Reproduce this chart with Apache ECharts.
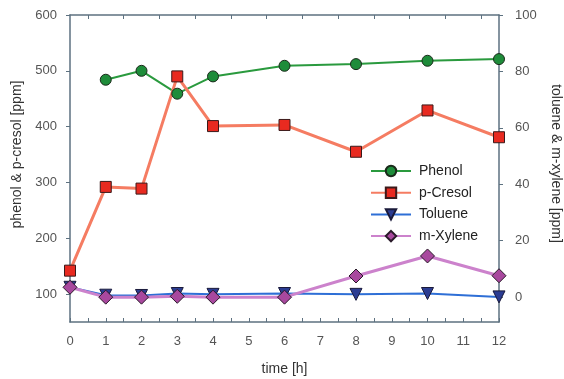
<!DOCTYPE html>
<html>
<head>
<meta charset="utf-8">
<script src="https://cdn.jsdelivr.net/npm/echarts@6/dist/echarts.min.js"></script>
<style>
html,body{margin:0;padding:0;background:#fff;}
#c{width:564px;height:379px;}
</style>
</head>
<body>
<div id="c"></div>
<script>
// Data
const time = [0, 1, 2, 3, 4, 6, 8, 10, 12];
const phenol = [null, 484, 500, 459, 490, 509, 512, 518, 521];
const pCresol = [142, 292, 289, 490, 401, 403, 355, 429, 381];
const toluene = [3.5, 0.7, 0.6, 1.3, 1.0, 1.3, 1.0, 1.3, 0.1];
const mXylene = [3.5, 0, 0, 0.3, 0, 0, 7.5, 14.6, 7.6];

const xTicks = [0,1,2,3,4,5,6,7,8,9,10,11,12];
const leftTicks = [100, 200, 300, 400, 500, 600];
const rightTicks = [0, 20, 40, 60, 80, 100];

function pairs(vals) {
  const out = [];
  for (let i = 0; i < time.length; i++) {
    if (vals[i] !== null) out.push([time[i], vals[i]]);
  }
  return out;
}

const FONT = "'Liberation Sans', Arial, sans-serif";
const AX = '#5d7180';
const LBL = '#555555';

const chart = echarts.init(document.getElementById('c'), null, {renderer: 'canvas'});
const halfTicks = [];
for (let v = 0; v <= 12; v += 0.5) halfTicks.push(v);
const topTicks = [];
for (let v = 0.5; v < 12; v += 1) topTicks.push(v);

chart.setOption({
  animation: false,
  backgroundColor: '#ffffff',
  textStyle: {fontFamily: FONT},
  grid: {left: 70, right: 65, top: 15, bottom: 57, containLabel: false, outerBoundsMode: 'none'},
  legend: {
    orient: 'vertical',
    left: 370,
    top: 164,
    padding: 0,
    itemWidth: 40,
    itemHeight: 13,
    itemGap: 7.7,
    textStyle: {fontFamily: FONT, fontSize: 14, color: '#222222', padding: [0, 0, 0, 3]},
    data: ['Phenol', 'p-Cresol', 'Toluene', 'm-Xylene']
  },
  xAxis: [
    {
      type: 'value', min: 0, max: 12, interval: 1, position: 'bottom',
      name: 'time [h]', nameLocation: 'middle', nameGap: 40,
      nameTextStyle: {fontFamily: FONT, fontSize: 14, color: '#333333'},
      axisLine: {show: true, onZero: false, lineStyle: {color: AX, width: 1.5}},
      axisTick: {show: true, inside: true, length: 4, customValues: halfTicks, lineStyle: {color: AX}},
      axisLabel: {show: true, margin: 13, fontFamily: FONT, fontSize: 13, color: LBL, customValues: xTicks},
      splitLine: {show: false}
    },
    {
      type: 'value', min: 0, max: 12, position: 'top',
      axisLine: {show: true, onZero: false, lineStyle: {color: AX, width: 1.5}},
      axisTick: {show: true, inside: true, length: 4, customValues: topTicks, lineStyle: {color: AX}},
      axisLabel: {show: false},
      splitLine: {show: false}
    }
  ],
  yAxis: [
    {
      type: 'value', min: 50, max: 600, position: 'left',
      name: 'phenol & p-cresol [ppm]', nameLocation: 'middle', nameGap: 45, nameRotate: 90,
      nameTextStyle: {fontFamily: FONT, fontSize: 14, color: '#333333', padding: [0, 0, 0, 28]},
      axisLine: {show: true, onZero: false, lineStyle: {color: AX, width: 1.5}},
      axisTick: {show: true, inside: false, length: 4, customValues: leftTicks, lineStyle: {color: AX}},
      axisLabel: {show: true, margin: 13, fontFamily: FONT, fontSize: 13, color: LBL, customValues: leftTicks},
      splitLine: {show: false}
    },
    {
      type: 'value', min: -8.8, max: 100, position: 'right',
      name: 'toluene & m-xylene [ppm]', nameLocation: 'middle', nameGap: 50, nameRotate: -90,
      nameTextStyle: {fontFamily: FONT, fontSize: 14, color: '#333333', padding: [0, 10, 0, 0]},
      axisLine: {show: true, onZero: false, lineStyle: {color: AX, width: 1.5}},
      axisTick: {show: true, inside: false, length: 4, customValues: rightTicks, lineStyle: {color: AX}},
      axisLabel: {show: true, margin: 16, fontFamily: FONT, fontSize: 13, color: LBL, customValues: rightTicks},
      splitLine: {show: false}
    }
  ],
  series: [
    {
      name: 'Phenol', type: 'line', xAxisIndex: 0, yAxisIndex: 0,
      data: pairs(phenol),
      symbol: 'circle', symbolSize: 11,
      lineStyle: {color: '#2a9a3e', width: 2},
      itemStyle: {color: '#1e8c3a', borderColor: '#1a2a1a', borderWidth: 1}
    },
    {
      name: 'p-Cresol', type: 'line', xAxisIndex: 0, yAxisIndex: 0,
      data: pairs(pCresol),
      symbol: 'rect', symbolSize: 11,
      lineStyle: {color: '#f57c62', width: 3},
      itemStyle: {color: '#e82a20', borderColor: '#3a1a1a', borderWidth: 1}
    },
    {
      name: 'Toluene', type: 'line', xAxisIndex: 0, yAxisIndex: 1,
      data: pairs(toluene),
      symbol: 'triangle', symbolRotate: 180, symbolSize: 12,
      lineStyle: {color: '#2e6fd6', width: 2},
      itemStyle: {color: '#2b3c92', borderColor: '#1a1a3a', borderWidth: 1}
    },
    {
      name: 'm-Xylene', type: 'line', xAxisIndex: 0, yAxisIndex: 1,
      data: pairs(mXylene),
      symbol: 'diamond', symbolSize: 14,
      lineStyle: {color: '#cc82cc', width: 3},
      itemStyle: {color: '#a8489e', borderColor: '#2a1a2a', borderWidth: 1}
    }
  ]
});
</script>
</body>
</html>
